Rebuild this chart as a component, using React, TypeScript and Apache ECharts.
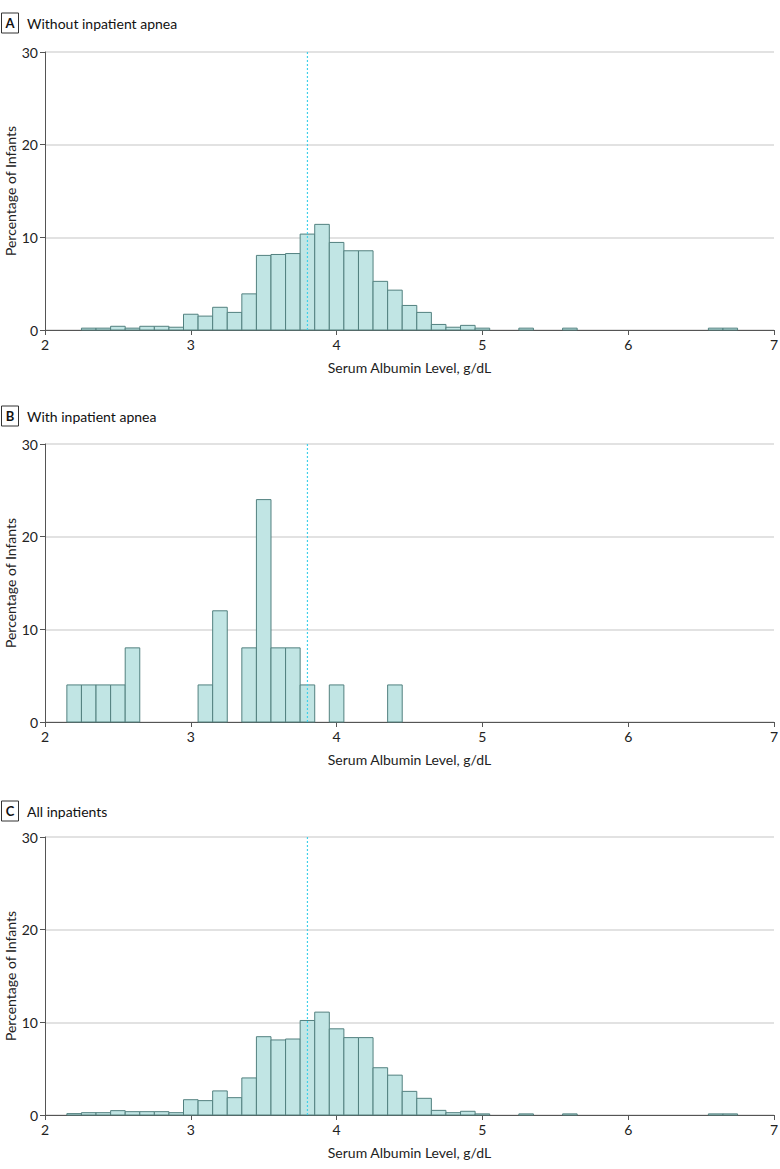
import React, { useEffect, useRef } from "react";
import * as echarts from "echarts";

// Histogram bin centres (g/dL) and percentages of infants
const binCentersA = [2.3, 2.4, 2.5, 2.6, 2.7, 2.8, 2.9, 3.0, 3.1, 3.2, 3.3, 3.4, 3.5, 3.6, 3.7, 3.8, 3.9, 4.0, 4.1, 4.2, 4.3, 4.4, 4.5, 4.6, 4.7, 4.8, 4.9, 5.0, 5.3, 5.6, 6.6, 6.7];
const pctA = [0.2, 0.2, 0.4, 0.2, 0.4, 0.4, 0.3, 1.7, 1.5, 2.45, 1.9, 3.9, 8.05, 8.15, 8.25, 10.35, 11.4, 9.45, 8.55, 8.55, 5.25, 4.3, 2.65, 1.9, 0.6, 0.3, 0.5, 0.2, 0.2, 0.2, 0.2, 0.2];

const binCentersB = [2.2, 2.3, 2.4, 2.5, 2.6, 3.1, 3.2, 3.4, 3.5, 3.6, 3.7, 3.8, 4.0, 4.4];
const pctB = [4, 4, 4, 4, 8, 4, 12, 8, 24, 8, 8, 4, 4, 4];

const binCentersC = [2.2, 2.3, 2.4, 2.5, 2.6, 2.7, 2.8, 2.9, 3.0, 3.1, 3.2, 3.3, 3.4, 3.5, 3.6, 3.7, 3.8, 3.9, 4.0, 4.1, 4.2, 4.3, 4.4, 4.5, 4.6, 4.7, 4.8, 4.9, 5.0, 5.3, 5.6, 6.6, 6.7];
const pctC = [0.15, 0.25, 0.25, 0.47, 0.36, 0.36, 0.36, 0.25, 1.65, 1.55, 2.6, 1.87, 4.0, 8.45, 8.1, 8.2, 10.2, 11.1, 9.3, 8.35, 8.35, 5.1, 4.3, 2.55, 1.8, 0.5, 0.25, 0.4, 0.12, 0.12, 0.12, 0.12, 0.12];

const panelLetters = ["A", "B", "C"];
const panelTitles = ["Without inpatient apnea", "With inpatient apnea", "All inpatients"];
const xTicks = [2, 3, 4, 5, 6, 7];
const yTicks = [0, 10, 20, 30];
const referenceAlbumin = 3.8;
const binWidth = 0.1;
const xAxisName = "Serum Albumin Level, g/dL";
const yAxisName = "Percentage of Infants";

const FONT = "Lato";
const FILL = "#c1e5e4";
const STROKE = "#52807f";
const REF_COLOR = "#3fd0ea";

export default function App() {
  const ref = useRef<HTMLDivElement>(null);

  useEffect(() => {
    if (!ref.current) return;
    const chart = echarts.init(ref.current, undefined, { renderer: "svg" });

    const datasets = [
      binCentersA.map((c, i) => [c, pctA[i]]),
      binCentersB.map((c, i) => [c, pctB[i]]),
      binCentersC.map((c, i) => [c, pctC[i]]),
    ];
    const gridTops = [52, 444, 837];
    const gridHeight = 278;
    const titleCenters = [23, 416, 811];

    const grids = gridTops.map((top) => ({
      left: 45,
      width: 729,
      top,
      height: gridHeight,
      containLabel: false,
      outerBoundsMode: "none",
    }));

    const xAxes = gridTops.map((_, i) => ({
      type: "value",
      gridIndex: i,
      min: xTicks[0],
      max: xTicks[xTicks.length - 1],
      interval: 1,
      name: xAxisName,
      nameLocation: "middle",
      nameGap: 30,
      nameMoveOverlap: false,
      nameTextStyle: { fontFamily: FONT, fontSize: 14, color: "#222" },
      axisLine: { show: true, lineStyle: { color: "#555", width: 1 } },
      axisTick: { show: true, length: 5, lineStyle: { color: "#555" } },
      axisLabel: { fontFamily: FONT, fontSize: 14, color: "#222", margin: 7 },
      splitLine: { show: false },
    }));

    const yAxes = gridTops.map((_, i) => ({
      type: "value",
      gridIndex: i,
      min: yTicks[0],
      max: yTicks[yTicks.length - 1],
      interval: 10,
      name: yAxisName,
      nameLocation: "middle",
      nameGap: 28,
      nameMoveOverlap: false,
      nameTextStyle: { fontFamily: FONT, fontSize: 14, color: "#222" },
      axisLine: { show: true, lineStyle: { color: "#555", width: 1 } },
      axisTick: { show: true, length: 5, lineStyle: { color: "#555" } },
      axisLabel: { fontFamily: FONT, fontSize: 14, color: "#222", margin: 7 },
      splitLine: { show: true, lineStyle: { color: "#d8d8d8", width: 1.5 } },
    }));

    const barSeries = datasets.map((data, i) => ({
      type: "custom",
      xAxisIndex: i,
      yAxisIndex: i,
      data,
      encode: { x: 0, y: 1 },
      z: 2,
      renderItem: (params: any, api: any) => {
        const x = api.value(0);
        const y = api.value(1);
        const p0 = api.coord([x - binWidth / 2, y]);
        const p1 = api.coord([x + binWidth / 2, 0]);
        return {
          type: "rect",
          shape: { x: p0[0], y: p0[1], width: p1[0] - p0[0], height: p1[1] - p0[1] },
          style: { fill: FILL, stroke: STROKE, lineWidth: 1 },
        };
      },
    }));

    const refSeries = datasets.map((_, i) => ({
      type: "line",
      xAxisIndex: i,
      yAxisIndex: i,
      data: [
        [referenceAlbumin, yTicks[0]],
        [referenceAlbumin, yTicks[yTicks.length - 1]],
      ],
      symbol: "none",
      z: 5,
      silent: true,
      color: REF_COLOR,
      itemStyle: { color: REF_COLOR },
      lineStyle: { color: REF_COLOR, width: 1.2, type: [2, 2] },
    }));

    const graphics: any[] = [];
    titleCenters.forEach((cy, i) => {
      graphics.push({
        type: "rect",
        shape: { x: 1.5, y: cy - 10, width: 17, height: 20 },
        style: { fill: "#fff", stroke: "#333", lineWidth: 1 },
      });
      graphics.push({
        type: "text",
        x: 10,
        y: cy,
        style: {
          text: panelLetters[i],
          fontFamily: FONT,
          fontWeight: "bold",
          fontSize: 13,
          fill: "#111",
          align: "center",
          verticalAlign: "middle",
        },
      });
      graphics.push({
        type: "text",
        x: 27,
        y: cy,
        style: {
          text: panelTitles[i],
          fontFamily: FONT,
          fontSize: 14,
          fill: "#111",
          align: "left",
          verticalAlign: "middle",
        },
      });
    });

    chart.setOption({
      animation: false,
      backgroundColor: "#fff",
      grid: grids,
      xAxis: xAxes,
      yAxis: yAxes,
      series: [...barSeries, ...refSeries],
      graphic: graphics,
    });

    return () => chart.dispose();
  }, []);

  return (
    <div
      ref={ref}
      style={{ position: "absolute", left: 0, top: 0, width: 780, height: 1169, background: "#fff" }}
    />
  );
}
